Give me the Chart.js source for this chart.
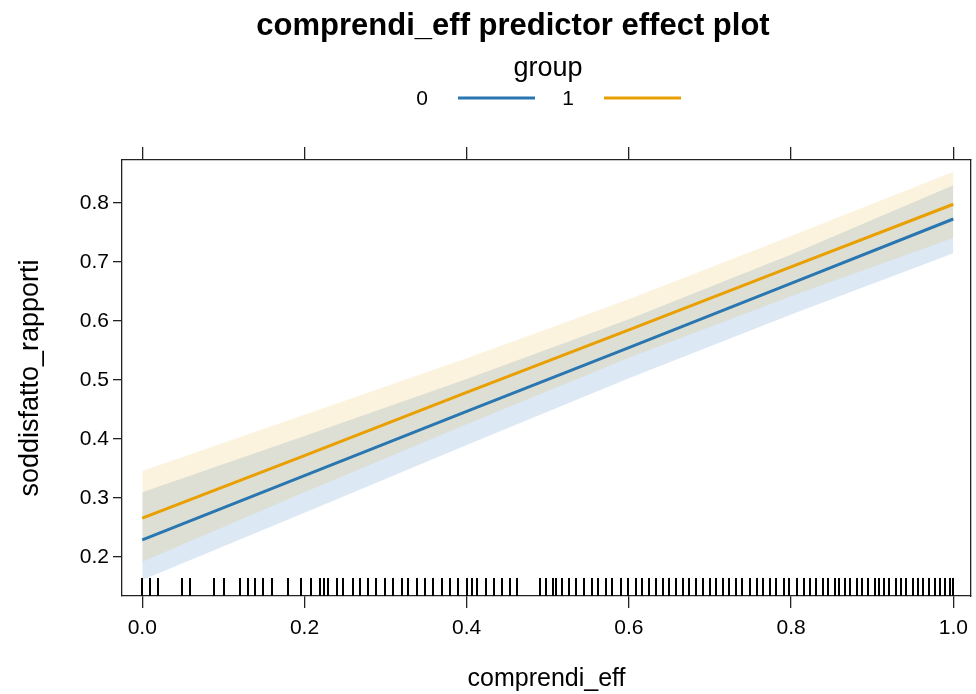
<!DOCTYPE html>
<html>
<head>
<meta charset="utf-8">
<title>comprendi_eff predictor effect plot</title>
<script src="https://cdn.jsdelivr.net/npm/chart.js@4.4.1/dist/chart.umd.min.js"></script>
<style>
  html, body { margin: 0; padding: 0; background: #fff; }
  #wrap { width: 976px; height: 694px; }
</style>
</head>
<body>
<div id="wrap"><canvas id="effect" width="976" height="694"></canvas></div>
<script>
// values
const xGrid = [0, 0.2, 0.4, 0.6, 0.8, 1.0];
const fit0 = [0.229, 0.338, 0.447, 0.555, 0.664, 0.773];
const lower0 = [0.161, 0.275, 0.390, 0.503, 0.611, 0.715];
const upper0 = [0.310, 0.405, 0.502, 0.603, 0.713, 0.830];
const fit1 = [0.266, 0.372, 0.479, 0.585, 0.692, 0.798];
const lower1 = [0.192, 0.310, 0.425, 0.538, 0.642, 0.741];
const upper1 = [0.346, 0.441, 0.537, 0.637, 0.744, 0.853];

const groups = ['0', '1'];
const xTicks = [0, 0.2, 0.4, 0.6, 0.8, 1.0];
const yTicks = [0.2, 0.3, 0.4, 0.5, 0.6, 0.7, 0.8];

// rug: observed comprendi_eff values
const rugX = [
  0.000, 0.010, 0.020, 0.049, 0.059, 0.089, 0.101, 0.121, 0.130, 0.139, 0.149, 0.160, 0.180, 0.196,
  0.208, 0.219, 0.224, 0.229, 0.240, 0.248, 0.260, 0.268, 0.278, 0.288, 0.299, 0.309, 0.320, 0.328,
  0.339, 0.348, 0.358, 0.369, 0.379, 0.389, 0.400, 0.407,
  0.413, 0.424, 0.434, 0.443, 0.453, 0.462, 0.490, 0.498, 0.506, 0.510, 0.517, 0.526, 0.535, 0.545,
  0.554, 0.562, 0.572, 0.579, 0.590, 0.599, 0.609, 0.616,
  0.625, 0.633, 0.642, 0.649, 0.658, 0.667, 0.674, 0.683, 0.691, 0.700, 0.707, 0.716, 0.724, 0.732,
  0.740, 0.749, 0.758, 0.765, 0.774, 0.782, 0.791, 0.798, 0.807, 0.816, 0.823,
  0.831, 0.839, 0.846, 0.854, 0.859, 0.867, 0.873, 0.881, 0.887, 0.895, 0.904, 0.909, 0.914, 0.921,
  0.929, 0.935, 0.942, 0.950, 0.957, 0.963, 0.970, 0.978, 0.984, 0.990, 0.996, 1.000
];

const blue = '#2a76b0';
const orange = '#e99f00';
const blueBand = 'rgba(22, 100, 182, 0.15)';
const orangeBand = 'rgba(230, 159, 0, 0.13)';
const frame = '#222';
const fontFamily = '"Liberation Sans", Arial, Helvetica, sans-serif';

Chart.defaults.font.family = fontFamily;
Chart.defaults.color = '#000';

const pts = (ys) => xGrid.map((x, i) => ({ x: x, y: ys[i] }));
// chart.js draws higher "order" first, so bands get larger order than the lines
const band = (ys, fill, bg, order) => ({
  data: pts(ys), borderWidth: 0, pointRadius: 0, fill: fill, backgroundColor: bg, tension: 0, order: order
});
const fitLine = (ys, col) => ({
  data: pts(ys), borderColor: col, borderWidth: 3, pointRadius: 0, fill: false, tension: 0, order: 0
});

const rugPlugin = {
  id: 'rug',
  afterDatasetsDraw(chart) {
    const { ctx, chartArea, scales } = chart;
    ctx.save();
    ctx.strokeStyle = '#000';
    ctx.lineWidth = 2;
    ctx.beginPath();
    rugX.forEach((v) => {
      const px = Math.round(scales.x.getPixelForValue(v));
      ctx.moveTo(px, chartArea.bottom);
      ctx.lineTo(px, chartArea.bottom - 18);
    });
    ctx.stroke();
    ctx.restore();
  }
};

const headerPlugin = {
  id: 'header',
  afterDraw(chart) {
    const ctx = chart.ctx;
    ctx.save();
    ctx.fillStyle = '#000';
    ctx.textAlign = 'center';
    ctx.textBaseline = 'middle';
    ctx.font = 'bold 31px ' + fontFamily;
    ctx.fillText('comprendi_eff predictor effect plot', 513, 26);
    ctx.font = '27px ' + fontFamily;
    ctx.fillText('group', 548, 69);

    const cols = [blue, orange];
    const labelX = [422, 568];
    ctx.font = '21px ' + fontFamily;
    groups.forEach((g, i) => {
      ctx.fillStyle = '#000';
      ctx.fillText(g, labelX[i], 99);
      ctx.strokeStyle = cols[i];
      ctx.lineWidth = 3;
      ctx.beginPath();
      ctx.moveTo(labelX[i] + 36, 98);
      ctx.lineTo(labelX[i] + 113, 98);
      ctx.stroke();
    });
    ctx.restore();
  }
};

const tickFont = { size: 21 };

new Chart(document.getElementById('effect'), {
  type: 'line',
  data: {
    datasets: [
      band(upper0, false, blueBand, 3),
      band(lower0, '-1', blueBand, 3),
      band(upper1, false, orangeBand, 2),
      band(lower1, '-1', orangeBand, 2),
      fitLine(fit0, blue),
      fitLine(fit1, orange)
    ]
  },
  options: {
    responsive: false,
    animation: false,
    devicePixelRatio: 1,
    plugins: {
      legend: { display: false },
      title: { display: false },
      tooltip: { enabled: false }
    },
    scales: {
      x: {
        type: 'linear',
        position: 'bottom',
        min: -0.025,
        max: 1.022,
        afterBuildTicks: (s) => { s.ticks = xTicks.map((v) => ({ value: v })); },
        afterFit: (s) => { s.height = 98; },
        ticks: { font: tickFont, padding: 8, maxRotation: 0, callback: (v) => Number(v).toFixed(1) },
        grid: { drawOnChartArea: false, tickLength: 12, color: frame, lineWidth: 1.3 },
        border: { display: true, color: frame, width: 1.3 },
        title: { display: true, text: 'comprendi_eff', font: { size: 25 }, padding: { top: 0, bottom: 0 } }
      },
      xTop: {
        type: 'linear',
        position: 'top',
        min: -0.025,
        max: 1.022,
        afterBuildTicks: (s) => { s.ticks = xTicks.map((v) => ({ value: v })); },
        afterFit: (s) => { s.height = 160; },
        ticks: { display: false },
        grid: { drawOnChartArea: false, tickLength: 13, color: frame, lineWidth: 1.3 },
        border: { display: true, color: frame, width: 1.3 }
      },
      y: {
        type: 'linear',
        position: 'left',
        min: 0.134,
        max: 0.873,
        afterBuildTicks: (s) => { s.ticks = yTicks.map((v) => ({ value: v })); },
        afterFit: (s) => { s.width = 122; },
        ticks: { font: tickFont, padding: 4, callback: (v) => Number(v).toFixed(1) },
        grid: { drawOnChartArea: false, tickLength: 9, color: frame, lineWidth: 1.3 },
        border: { display: true, color: frame, width: 1.3 },
        title: { display: true, text: 'soddisfatto_rapporti', font: { size: 27 }, padding: { top: 14, bottom: 0 } }
      },
      yRight: {
        type: 'linear',
        position: 'right',
        min: 0.134,
        max: 0.873,
        afterFit: (s) => { s.width = 4; },
        ticks: { display: false },
        grid: { display: false },
        border: { display: true, color: frame, width: 1.3 }
      }
    }
  },
  plugins: [rugPlugin, headerPlugin]
});
</script>
</body>
</html>
